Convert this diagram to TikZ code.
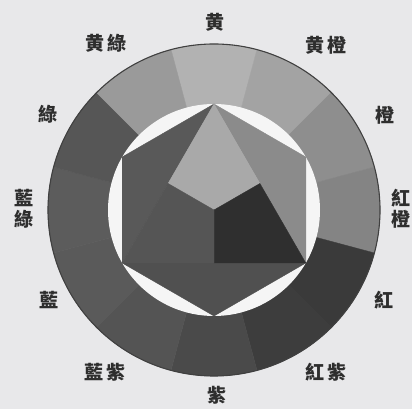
\documentclass[tikz,border=0pt]{standalone}
\usepackage{fontspec}
\usetikzlibrary{calc}
\newfontfamily\cjk{Noto Sans CJK TC}
\definecolor{bg}{HTML}{E8E8EA}
\definecolor{hole}{HTML}{F5F5F5}
\definecolor{txt}{HTML}{2E2E2E}
\definecolor{rim}{HTML}{404040}
\definecolor{sY}{HTML}{B2B2B2}
\definecolor{sYO}{HTML}{A3A3A3}
\definecolor{sO}{HTML}{8E8E8E}
\definecolor{sRO}{HTML}{848484}
\definecolor{sR}{HTML}{3A3A3A}
\definecolor{sRV}{HTML}{3D3D3D}
\definecolor{sV}{HTML}{4A4A4A}
\definecolor{sBV}{HTML}{545454}
\definecolor{sB}{HTML}{5A5A5A}
\definecolor{sBG}{HTML}{5C5C5C}
\definecolor{sG}{HTML}{565656}
\definecolor{sYG}{HTML}{9A9A9A}
\definecolor{iY}{HTML}{A9A9A9}
\definecolor{iO}{HTML}{8B8B8B}
\definecolor{iR}{HTML}{2F2F2F}
\definecolor{iB}{HTML}{555555}
\definecolor{iG}{HTML}{595959}
\definecolor{iV}{HTML}{505050}
\tikzset{
  lbl/.style={text=txt, inner sep=0pt, font=\cjk\bfseries\fontsize{19pt}{21pt}\selectfont},
  vlbl/.style={lbl, align=center, font=\cjk\bfseries\fontsize{19pt}{21pt}\selectfont},
  piece/.style={fill=#1, draw=#1, line width=0.4pt, line join=round}
}
\begin{document}
\begin{tikzpicture}[x=1pt,y=1pt]
\fill[bg] (0,0) rectangle (412,409);
\useasboundingbox (0,0) rectangle (412,409);
\coordinate (C) at (214,199);
\def\R{166}
\def\r{106}
% outer ring segments
\foreach \a/\c in {90/sY,60/sYO,30/sO,0/sRO,-30/sR,-60/sRV,-90/sV,-120/sBV,-150/sB,180/sBG,150/sG,120/sYG}{
  \path[piece=\c] (C) -- ($(C)+(\a+15:\R)$) arc[start angle=\a+15, end angle=\a-15, radius=\R] -- cycle;
}
\draw[rim, line width=1.1pt] (C) circle[radius=\R];
\fill[hole] (C) circle[radius=\r];
% hexagon triangles
\path[piece=iO] ($(C)+(90:\r)$) -- ($(C)+(30:\r)$) -- ($(C)+(-30:\r)$) -- cycle;
\path[piece=iG] ($(C)+(90:\r)$) -- ($(C)+(150:\r)$) -- ($(C)+(210:\r)$) -- cycle;
\path[piece=iV] ($(C)+(210:\r)$) -- ($(C)+(270:\r)$) -- ($(C)+(330:\r)$) -- cycle;
% central triangle
\path[piece=iY] ($(C)+(90:\r)$) -- ($(C)+(30:\r/2)$) -- (C) -- ($(C)+(150:\r/2)$) -- cycle;
\path[piece=iR] (C) -- ($(C)+(30:\r/2)$) -- ($(C)+(330:\r)$) -- ($(C)+(270:\r/2)$) -- cycle;
\path[piece=iB] (C) -- ($(C)+(270:\r/2)$) -- ($(C)+(210:\r)$) -- ($(C)+(150:\r/2)$) -- cycle;
% labels
\node[lbl] (lY)  at (215,387) {黄};
\node[lbl] (lYO) at (326,364) {黄\hspace{4pt}橙};
\node[lbl] (lO)  at (385,294) {橙};
\node[vlbl] (lRO) at (401,200) {紅\\橙};
\node[lbl] (lR)  at (384,109) {紅};
\node[lbl] (lRV) at (326,37)  {紅\hspace{4pt}紫};
\node[lbl] (lV)  at (217,14)  {紫};
\node[lbl] (lBV) at (105,37)  {藍\hspace{4pt}紫};
\node[lbl] (lB)  at (49,109)  {藍};
\node[vlbl] (lBG) at (24,200) {藍\\綠};
\node[lbl] (lG)  at (48,295)  {綠};
\node[lbl] (lYG) at (106,366) {黄\hspace{4pt}綠};
\end{tikzpicture}
\end{document}
